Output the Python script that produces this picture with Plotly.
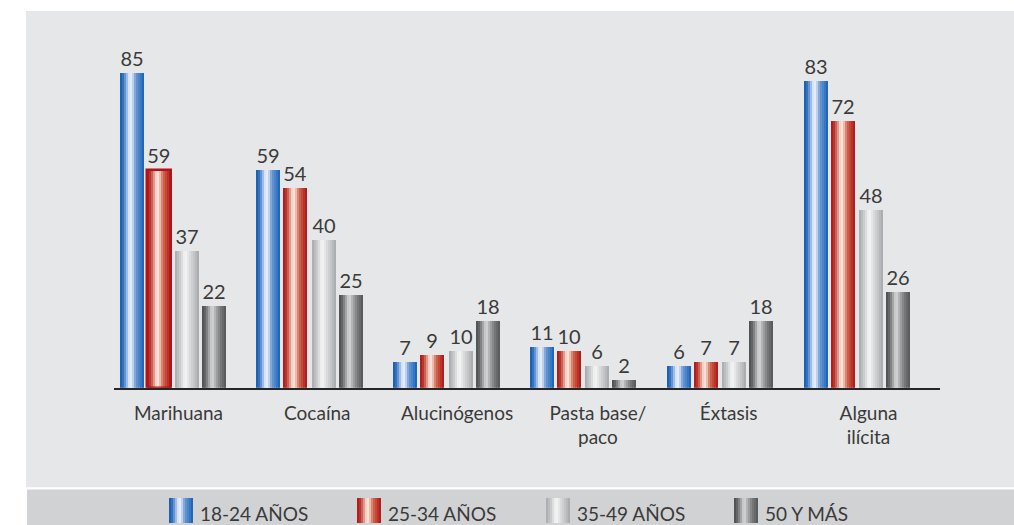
import plotly.graph_objects as go

# ---- data -------------------------------------------------------------
categories = ["Marihuana", "Cocaína", "Alucinógenos", "Pasta base/<br>paco",
              "Éxtasis", "Alguna<br>ilícita"]
series_names = ["18-24 AÑOS", "25-34 AÑOS", "35-49 AÑOS", "50 Y MÁS"]
age_18_24 = [85, 59, 7, 11, 6, 83]
age_25_34 = [59, 54, 9, 10, 7, 72]
age_35_49 = [37, 40, 10, 6, 7, 48]
age_50_plus = [22, 25, 18, 2, 18, 26]
series_values = [age_18_24, age_25_34, age_35_49, age_50_plus]

# ---- styling ----------------------------------------------------------
W, H = 1014, 525
FONT = "Lato"
TEXT_COLOR = "#3a3a3a"
PANEL = "#e6e7e8"
LEGEND_BAND = "#d1d2d4"

GROUP_PX = 136.8          # distance between category centres
FIRST_CENTER_PX = 172.5
AXIS_LEFT_PX, AXIS_RIGHT_PX = 114, 940
BASE_PX, TOP_PX = 387.8, 11
PX_PER_UNIT = 3.70
BAR_PX = 24
BAR_CENTER_PX = [-41, -14, 14.5, 41.5]
LABEL_SHIFT_PX = [6, 8, 11, 15, 9, 12]
N_SLICES = 12

# cylinder-like shading, left edge -> right edge
gradients = [
    [(0, "#1259ad"), (0.15, "#3877c4"), (0.3, "#a6c0e6"), (0.42, "#f4f7fd"),
     (0.53, "#c6d6ef"), (0.66, "#6a98d4"), (0.82, "#4580c8"), (1, "#165fb3")],
    [(0, "#a9151b"), (0.15, "#bf3a30"), (0.3, "#df9f8e"), (0.42, "#fcf0ea"),
     (0.53, "#efc3b3"), (0.66, "#d16d58"), (0.82, "#c0402f"), (1, "#a8171a")],
    [(0, "#a6a8ab"), (0.2, "#c8c9cb"), (0.42, "#f8f8f8"), (0.6, "#dcdddf"),
     (0.8, "#c3c4c6"), (1, "#a5a7aa")],
    [(0, "#4a4b4d"), (0.15, "#696a6c"), (0.42, "#dadbdc"), (0.56, "#adaeb0"),
     (0.76, "#7a7b7d"), (1, "#545557")],
]


def shade(stops, t):
    for (p0, c0), (p1, c1) in zip(stops, stops[1:]):
        if p0 <= t <= p1:
            f = (t - p0) / (p1 - p0)
            a = [int(c0[k:k + 2], 16) for k in (1, 3, 5)]
            b = [int(c1[k:k + 2], 16) for k in (1, 3, 5)]
            r, g, bl = (round(a[i] + (b[i] - a[i]) * f) for i in range(3))
            return f"rgb({r},{g},{bl})"
    return stops[-1][1]


def sliced_bars(x, y, left_px, unit_px, stops, xaxis, yaxis):
    """A bar drawn as narrow vertical strips to give it a rounded shading."""
    step = BAR_PX / N_SLICES
    traces = []
    for j in range(N_SLICES):
        w = step * 1.5 if j < N_SLICES - 1 else step
        traces.append(go.Bar(
            x=x, y=y,
            offset=(left_px + j * step) / unit_px,
            width=w / unit_px,
            marker=dict(color=shade(stops, (j + 0.5) / N_SLICES), line=dict(width=0)),
            xaxis=xaxis, yaxis=yaxis,
            showlegend=False, hoverinfo="skip",
        ))
    return traces


fig = go.Figure()
groups = list(range(len(categories)))

# main bars
for s, values in enumerate(series_values):
    left = BAR_CENTER_PX[s] - BAR_PX / 2
    for tr in sliced_bars(groups, values, left, GROUP_PX, gradients[s], "x", "y"):
        fig.add_trace(tr)
    # value labels (and the highlighted outline on the first 25-34 bar)
    fig.add_trace(go.Bar(
        x=groups, y=values,
        offset=left / GROUP_PX, width=BAR_PX / GROUP_PX,
        marker=dict(color="rgba(0,0,0,0)",
                    line=dict(color="#b3121b",
                              width=[2.5 if (s == 1 and i == 0) else 0 for i in groups])),
        text=[str(v) for v in values], textposition="outside",
        textangle=0, constraintext="none", cliponaxis=False,
        textfont=dict(family=FONT, size=20, color=TEXT_COLOR),
        showlegend=False, hoverinfo="skip",
    ))

# legend swatches
LEG_FIRST_PX, LEG_STEP_PX = 181, 188.3
for s, name in enumerate(series_names):
    for tr in sliced_bars([s], [1], -BAR_PX / 2, LEG_STEP_PX, gradients[s], "x2", "y2"):
        fig.add_trace(tr)
    fig.add_annotation(
        x=s + 17 / LEG_STEP_PX, xref="x2", xanchor="left",
        y=(H - 513) / H, yref="paper", yanchor="middle",
        text=name, showarrow=False,
        font=dict(family=FONT, size=19, color=TEXT_COLOR),
    )

r0 = -(FIRST_CENTER_PX - AXIS_LEFT_PX) / GROUP_PX
r1 = r0 + (AXIS_RIGHT_PX - AXIS_LEFT_PX) / GROUP_PX
lr0 = -LEG_FIRST_PX / LEG_STEP_PX

fig.update_layout(
    width=W, height=H,
    margin=dict(l=0, r=0, t=0, b=0),
    paper_bgcolor="white", plot_bgcolor="rgba(0,0,0,0)",
    barmode="overlay", bargap=0,
    showlegend=False,
    font=dict(family=FONT, color=TEXT_COLOR),
    xaxis=dict(
        domain=[AXIS_LEFT_PX / W, AXIS_RIGHT_PX / W], range=[r0, r1],
        tickvals=[g + LABEL_SHIFT_PX[g] / GROUP_PX for g in groups],
        ticktext=categories, ticks="", ticklabelstandoff=7,
        tickfont=dict(family=FONT, size=19, color=TEXT_COLOR),
        showline=True, linecolor="#262626", linewidth=2,
        showgrid=False, zeroline=False, fixedrange=True,
    ),
    yaxis=dict(
        domain=[(H - BASE_PX) / H, (H - TOP_PX) / H],
        range=[0, (BASE_PX - TOP_PX) / PX_PER_UNIT],
        visible=False, fixedrange=True,
    ),
    xaxis2=dict(domain=[0, 1], range=[lr0, lr0 + W / LEG_STEP_PX],
                visible=False, anchor="y2", fixedrange=True),
    yaxis2=dict(domain=[(H - 523) / H, (H - 498) / H], range=[0, 1],
                visible=False, anchor="x2", fixedrange=True),
    shapes=[
        dict(type="rect", xref="paper", yref="paper", layer="below",
             x0=26 / W, x1=1, y0=(H - 487.3) / H, y1=(H - 11) / H,
             fillcolor=PANEL, line=dict(width=0)),
        dict(type="rect", xref="paper", yref="paper", layer="below",
             x0=27 / W, x1=1, y0=0, y1=(H - 489.5) / H,
             fillcolor=LEGEND_BAND, line=dict(width=0)),
    ],
)

fig.write_html("out.html", config={"displayModeBar": False})
